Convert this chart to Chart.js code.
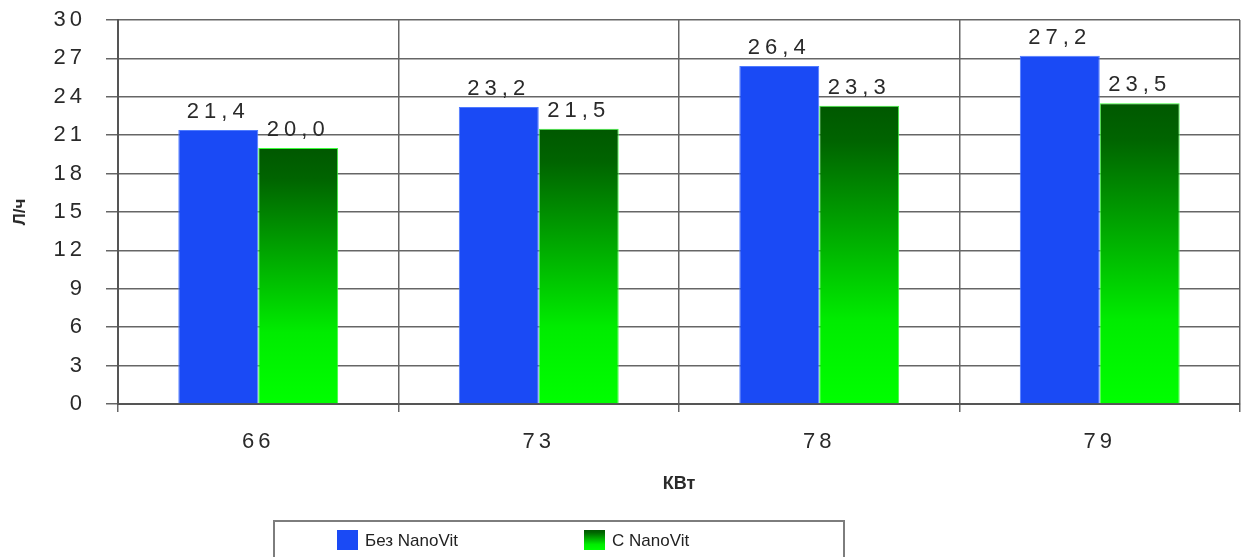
<!DOCTYPE html>
<html>
<head>
<meta charset="utf-8">
<script src="https://cdn.jsdelivr.net/npm/chart.js@4.4.0/dist/chart.umd.min.js"></script>
<style>
  html, body { margin: 0; padding: 0; background: #fff; }
  #wrap { width: 1245px; height: 557px; }
</style>
</head>
<body>
<div id="wrap"><canvas id="fuelChart" width="1245" height="557"></canvas></div>
<script>
// data
const powerKw = ['66', '73', '78', '79'];
const withoutNano = [21.4, 23.2, 26.4, 27.2];
const withNano = [20.0, 21.5, 23.3, 23.5];
const seriesNames = ['Без NanoVit', 'С NanoVit'];
const yTicks = [0, 3, 6, 9, 12, 15, 18, 21, 24, 27, 30];

const blue = '#1a4af5';
const fontFace = '"Liberation Sans", Arial, sans-serif';

function greenGradient(c, top, bottom) {
    const g = c.createLinearGradient(0, top, 0, bottom);
    g.addColorStop(0, '#005800');
    g.addColorStop(0.12, '#006400');
    g.addColorStop(0.72, '#00ec00');
    g.addColorStop(1, '#00ff00');
    return g;
}

function commaNum(v) {
    return v.toFixed(1).replace('.', ',');
}

// tick labels are spaced out in the original
const spacingPlugin = {
    id: 'spacing',
    beforeDraw(chart) {
        chart.ctx.letterSpacing = '4px';
    }
};

const extrasPlugin = {
    id: 'extras',
    afterDraw(chart) {
        const c = chart.ctx;
        const area = chart.chartArea;
        c.save();

        // value labels above the bars
        c.letterSpacing = '5px';
        c.font = '22px ' + fontFace;
        c.fillStyle = '#2a2a2a';
        c.textAlign = 'center';
        c.textBaseline = 'alphabetic';
        chart.data.datasets.forEach((ds, i) => {
            chart.getDatasetMeta(i).data.forEach((bar, j) => {
                c.fillText(commaNum(ds.data[j]), bar.x, bar.y - 12);
            });
        });

        // axis titles
        c.letterSpacing = '0px';
        c.font = 'bold 18px ' + fontFace;
        c.textBaseline = 'middle';
        c.fillText('КВт', (area.left + area.right) / 2, 484);
        c.save();
        c.translate(20, 212);
        c.rotate(-Math.PI / 2);
        c.font = 'bold 17px ' + fontFace;
        c.fillText('Л/ч', 0, 0);
        c.restore();

        // legend box
        c.strokeStyle = '#7d7d7d';
        c.lineWidth = 2;
        c.strokeRect(274, 521, 570, 50);
        const items = [
            { x: 337, fill: blue },
            { x: 584, fill: greenGradient(c, 530, 550) }
        ];
        c.font = '17px ' + fontFace;
        c.textAlign = 'left';
        items.forEach((it, i) => {
            c.fillStyle = it.fill;
            c.fillRect(it.x, 530, 21, 20);
            c.fillStyle = '#222';
            c.fillText(chart.data.datasets[i].label, it.x + 28, 541);
        });
        c.restore();
    }
};

new Chart(document.getElementById('fuelChart'), {
    type: 'bar',
    data: {
        labels: powerKw,
        datasets: [{
            label: seriesNames[0],
            data: withoutNano,
            backgroundColor: blue,
            borderColor: '#4f7bff',
            borderWidth: 1
        }, {
            label: seriesNames[1],
            data: withNano,
            backgroundColor(ctx) {
                const chart = ctx.chart;
                if (!chart.chartArea || ctx.type !== 'data') return '#00b000';
                const y = chart.scales.y;
                return greenGradient(chart.ctx, y.getPixelForValue(ctx.raw), y.getPixelForValue(0));
            },
            borderColor: '#3cff3c',
            borderWidth: 1
        }]
    },
    options: {
        responsive: false,
        animation: false,
        layout: { padding: { top: 20, right: 5, bottom: 0, left: 0 } },
        datasets: {
            bar: { categoryPercentage: 0.57, barPercentage: 1 }
        },
        plugins: {
            legend: { display: false },
            tooltip: { enabled: false }
        },
        scales: {
            x: {
                afterFit(scale) { scale.height = 153; },
                grid: {
                    offset: true,
                    color: '#666',
                    lineWidth: 1.5,
                    tickLength: 8
                },
                border: { color: '#555', width: 2 },
                ticks: {
                    color: '#2a2a2a',
                    padding: 17,
                    font: { family: fontFace, size: 22 }
                }
            },
            y: {
                min: 0,
                max: 30,
                afterFit(scale) {
                    scale.width = 118;
                    scale.paddingTop = 0;
                    scale.paddingBottom = 0;
                },
                afterBuildTicks(scale) {
                    scale.ticks = yTicks.map(v => ({ value: v }));
                },
                grid: {
                    color: '#666',
                    lineWidth: 1.5,
                    tickLength: 12
                },
                border: { color: '#555', width: 2 },
                ticks: {
                    color: '#2a2a2a',
                    padding: 20,
                    font: { family: fontFace, size: 22 }
                }
            }
        }
    },
    plugins: [spacingPlugin, extrasPlugin]
});
</script>
</body>
</html>
